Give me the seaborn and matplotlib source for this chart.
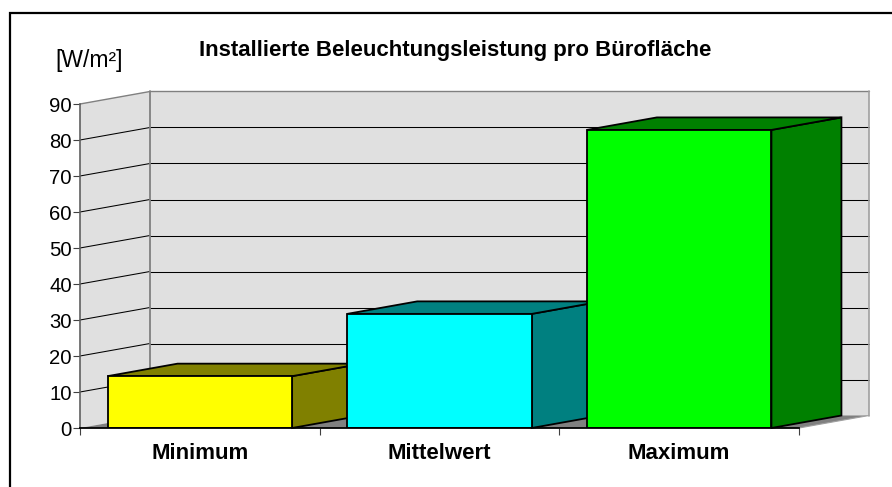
#!/usr/bin/env python
import matplotlib
matplotlib.use('Agg')
import matplotlib.pyplot as plt
from matplotlib.lines import Line2D
from matplotlib.patches import Polygon
import seaborn as sns

sns.set_style('white')
plt.rcParams['font.family'] = ['Liberation Sans', 'DejaVu Sans']
plt.rcParams['text.color'] = 'black'

categories = ['Minimum', 'Mittelwert', 'Maximum']
values = [14.4, 31.7, 82.8]
front_colors = ['#FFFF00', '#00FFFF', '#00FF00']
dark_colors = ['#808000', '#008080', '#008000']
y_ticks = [0, 10, 20, 30, 40, 50, 60, 70, 80, 90]
x_edges = [-0.5, 0.5, 1.5, 2.5]

W, H = 892, 487
WALL = '#E0E0E0'
FLOOR = '#808080'
# 3d depth in data units (70 px right, 12.5 px up)
DX = 70 / 239.7
DY = 12.5 / 3.6

fig = plt.figure(figsize=(W / 100, H / 100), dpi=100)
ax = fig.add_axes([80 / W, (H - 428) / H, 719 / W, 324 / H])

sns.barplot(x=categories, y=values, hue=categories, palette=front_colors,
            width=0.77, saturation=1, edgecolor='black', linewidth=1.3,
            legend=False, ax=ax)
ax.set_xlim(x_edges[0], x_edges[-1])
ax.set_ylim(0, y_ticks[-1])


def poly(points, color, z, edge='none', lw=0):
    ax.add_patch(Polygon(points, closed=True, facecolor=color, edgecolor=edge,
                         linewidth=lw, zorder=z, clip_on=False))


# ── walls and floor ──
x0, x1, top = x_edges[0], x_edges[-1], y_ticks[-1]
poly([(x0 + DX, DY), (x1 + DX, DY), (x1 + DX, top + DY), (x0 + DX, top + DY)], WALL, 0.1)
poly([(x0, 0), (x0 + DX, DY), (x0 + DX, top + DY), (x0, top)], WALL, 0.1)
poly([(x0, 0), (x0 + DX, DY), (x1 + DX, DY), (x1, 0)], FLOOR, 0.2)

for t in y_ticks[1:-1]:
    # diagonal and horizontal apart, so that the horizontal one snaps to a pixel
    ax.plot([x0, x0 + DX], [t, t + DY], color='black', lw=0.75, zorder=0.5, clip_on=False)
    ax.plot([x0 + DX, x1 + DX], [t + DY, t + DY], color='black', lw=0.75, zorder=0.5, clip_on=False)
ax.plot([x0, x0 + DX], [top, top + DY], color='#808080', lw=1, zorder=0.5, clip_on=False)
ax.plot([x0 + DX, x1 + DX], [top + DY, top + DY], color='#808080', lw=1, zorder=0.5, clip_on=False)
ax.plot([x0 + DX, x0 + DX], [DY, top + DY], color='#808080', lw=1.3, zorder=0.5, clip_on=False)
ax.plot([x1 + DX, x1 + DX], [DY, top + DY], color='#A0A0A0', lw=1.2, zorder=0.5, clip_on=False)
ax.plot([x1, x1 + DX], [0, DY], color='#A0A0A0', lw=0.8, zorder=0.5, clip_on=False)

# ── bar sides and tops, taken from the seaborn bars ──
for i, bar in enumerate(ax.patches[:3]):
    bx0, bx1, v = bar.get_x(), bar.get_x() + bar.get_width(), bar.get_height()
    base = 3 + i
    bar.set_zorder(base + 0.5)
    poly([(bx1, 0), (bx1 + DX, DY), (bx1 + DX, v + DY), (bx1, v)], dark_colors[i], base,
         edge='black', lw=1.3)
    poly([(bx0, v), (bx0 + DX, v + DY), (bx1 + DX, v + DY), (bx1, v)], dark_colors[i], base,
         edge='black', lw=1.3)

# ── axes ──
ax.grid(False)
ax.set_facecolor('none')
for side in ['top', 'right']:
    ax.spines[side].set_visible(False)
ax.spines['left'].set_color('#606060')
ax.spines['left'].set_linewidth(1.2)
ax.spines['bottom'].set_color('black')
ax.spines['bottom'].set_linewidth(1.3)
for s in ax.spines.values():
    s.set_zorder(8)

ax.set_yticks(y_ticks)
ax.tick_params(axis='y', length=5, width=0.8, color='#404040', pad=1, labelsize=14.6,
               left=True, labelcolor='black')
ax.set_xticks(range(len(categories)))
ax.set_xticklabels(categories, fontweight='bold', fontsize=16, color='black')
ax.tick_params(axis='x', which='major', length=0, pad=11)
ax.set_xticks(x_edges, minor=True)
ax.tick_params(axis='x', which='minor', length=5, width=0.8, color='#404040', bottom=True)

fig.text(89.5 / W, 1 - 60.5 / H, '[W/m²]', fontsize=16.5, ha='center', va='center', color='black')
fig.text(455 / W, 1 - 50.5 / H, 'Installierte Beleuchtungsleistung pro Bürofläche',
         fontsize=16, fontweight='bold', ha='center', va='center', color='black')

# black frame, only left and top are inside the picture
fig.add_artist(Line2D([9.5 / W, 9.5 / W, 1], [0, 1 - 12.5 / H, 1 - 12.5 / H],
                      color='black', lw=1.6, transform=fig.transFigure,
                      solid_joinstyle='miter'))

fig.savefig('out.png', dpi=100)
